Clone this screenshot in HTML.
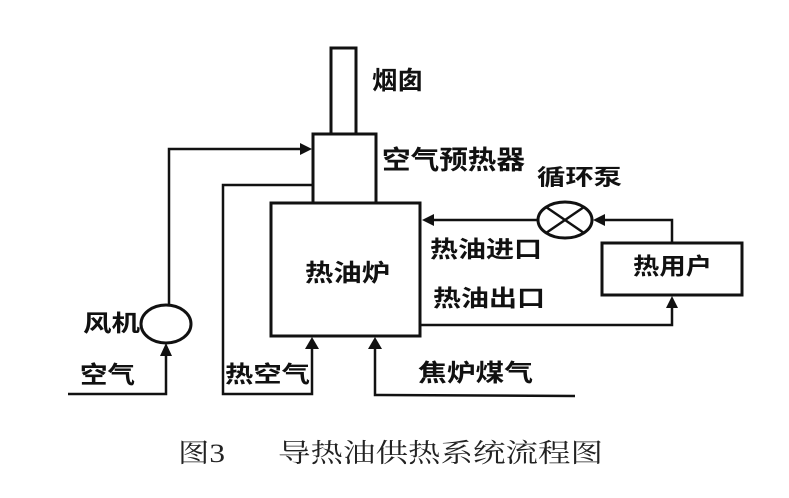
<!DOCTYPE html>
<html><head><meta charset="utf-8"><style>
html,body{margin:0;padding:0;background:#fff;}
svg{display:block;}
.t{font-family:"Liberation Sans","Noto Sans CJK SC",sans-serif;font-weight:bold;fill:#111;}
.c{font-family:"Liberation Serif","Noto Serif CJK SC",serif;font-weight:normal;fill:#222;}
</style></head><body>
<svg width="789" height="498" viewBox="0 0 789 498" xmlns="http://www.w3.org/2000/svg">
<g fill="none" stroke="#111" stroke-linejoin="miter">
  <!-- chimney -->
  <rect x="331" y="48" width="25" height="86" stroke-width="3"/>
  <!-- preheater -->
  <rect x="313" y="134" width="63" height="69" stroke-width="3"/>
  <!-- furnace -->
  <rect x="271" y="203" width="149" height="133" stroke-width="3"/>
  <!-- heat user -->
  <rect x="602" y="243" width="140" height="52" stroke-width="3"/>
  <!-- fan -->
  <ellipse cx="166" cy="324" rx="25" ry="19" stroke-width="3"/>
  <!-- pump -->
  <ellipse cx="565" cy="220" rx="27" ry="18" stroke-width="3"/>
  <line x1="546" y1="207" x2="584" y2="233" stroke-width="2.5"/>
  <line x1="546" y1="233" x2="584" y2="207" stroke-width="2.5"/>
  <!-- air line: from left to fan -->
  <polyline points="68,394 166,394 166,350" stroke-width="2.5"/>
  <!-- fan to preheater -->
  <polyline points="169,305 169,149 304,149" stroke-width="2.5"/>
  <!-- hot air loop -->
  <polyline points="313,185 223,185 223,394 312,394 312,345" stroke-width="2.5"/>
  <!-- coke gas -->
  <polyline points="575,396 375,395 375,345" stroke-width="2.5"/>
  <!-- oil inlet -->
  <polyline points="538,220 430,220" stroke-width="2.5"/>
  <polyline points="672,243 672,220 600,220" stroke-width="2.5"/>
  <!-- oil outlet -->
  <polyline points="420,325 672,325 672,305" stroke-width="2.5"/>
</g>
<g fill="#111" stroke="none">
  <!-- arrow into preheater -->
  <polygon points="312,149 300,143 300,155"/>
  <!-- arrow into fan -->
  <polygon points="166,343 160,356 172,356"/>
  <!-- hot air arrow into furnace -->
  <polygon points="312,337 305,349 319,349"/>
  <!-- gas arrow -->
  <polygon points="375,337 368,349 382,349"/>
  <!-- inlet arrow into furnace -->
  <polygon points="422,220 434,214 434,226"/>
  <!-- arrow into pump -->
  <polygon points="593,220 605,214 605,226"/>
  <!-- arrow into heat user -->
  <polygon points="672,296 666,308 678,308"/>
</g>
<g class="t">
  <text x="372" y="89" font-size="25" textLength="51" lengthAdjust="spacingAndGlyphs">烟囱</text>
  <text x="382" y="169" font-size="26" textLength="143" lengthAdjust="spacingAndGlyphs">空气预热器</text>
  <text x="537" y="185" font-size="22" textLength="85" lengthAdjust="spacingAndGlyphs">循环泵</text>
  <text x="633" y="274" font-size="23" textLength="79" lengthAdjust="spacingAndGlyphs">热用户</text>
  <text x="430" y="257" font-size="23" textLength="112" lengthAdjust="spacingAndGlyphs">热油进口</text>
  <text x="433" y="306" font-size="23" textLength="112" lengthAdjust="spacingAndGlyphs">热油出口</text>
  <text x="305" y="281" font-size="24" textLength="85" lengthAdjust="spacingAndGlyphs">热油炉</text>
  <text x="83" y="331" font-size="23" textLength="57" lengthAdjust="spacingAndGlyphs">风机</text>
  <text x="80" y="383" font-size="24" textLength="55" lengthAdjust="spacingAndGlyphs">空气</text>
  <text x="225" y="382" font-size="23" textLength="85" lengthAdjust="spacingAndGlyphs">热空气</text>
  <text x="418" y="381" font-size="24" textLength="115" lengthAdjust="spacingAndGlyphs">焦炉煤气</text>
</g>
<g class="c">
  <text x="178" y="462" font-size="26" textLength="47" lengthAdjust="spacingAndGlyphs">图3</text>
  <text x="278" y="462" font-size="26" textLength="325" lengthAdjust="spacingAndGlyphs">导热油供热系统流程图</text>
</g>
</svg>
</body></html>
